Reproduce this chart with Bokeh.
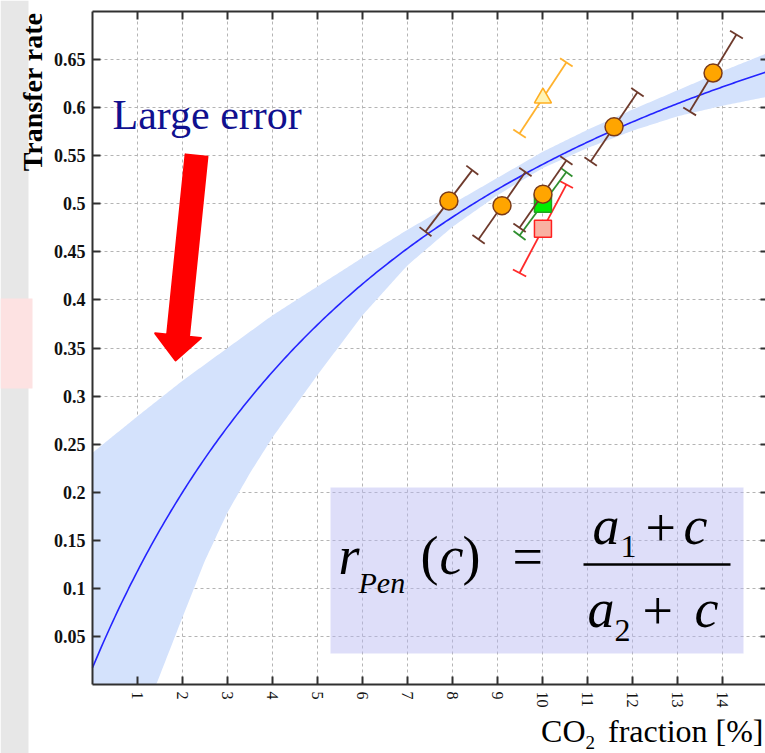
import math
import numpy as np
from bokeh.plotting import figure
from bokeh.models import FixedTicker, LinearAxis, Label, BoxAnnotation, Grid
from bokeh.embed import file_html
from bokeh.resources import INLINE

# ---------------- data ----------------
# penetration (transfer) rate measurements vs CO2 fraction
co2_pts = [7.92, 9.10, 10.01, 11.59, 13.79]
rate_pts = [0.503, 0.498, 0.510, 0.580, 0.636]
rate_pts_err = [0.032, 0.035, 0.035, 0.036, 0.040]

co2_green = [10.01]
rate_green = [0.500]
rate_green_err = [0.033]

co2_red = [10.01]
rate_red = [0.474]
rate_red_err = [0.046]

co2_tri = [10.01]
rate_tri = [0.610]
rate_tri_err = [0.037]

# fit r_Pen(c) = (a1 + c) / (a2 + c)
fit_a1 = 0.153
fit_a2 = 8.77

# fit uncertainty band
band_co2 = [0, 1, 2, 2.5, 3, 3.5, 4, 5, 6, 7, 8, 9, 10, 11, 12, 13, 14, 14.96]
band_lower = [-0.20, -0.05, 0.070, 0.129, 0.179, 0.220, 0.257, 0.322, 0.384, 0.436,
              0.476, 0.509, 0.537, 0.558, 0.576, 0.591, 0.602, 0.611]
band_upper = [0.241, 0.279, 0.316, 0.333, 0.350, 0.367, 0.384, 0.414, 0.444, 0.473,
              0.500, 0.527, 0.554, 0.577, 0.598, 0.618, 0.638, 0.656]

x_ticks = list(range(1, 15))
y_ticks = [0.05, 0.1, 0.15, 0.2, 0.25, 0.3, 0.35, 0.4, 0.45, 0.5, 0.55, 0.6, 0.65]
y_tick_labels = ["0.05", "0.1", "0.15", "0.2", "0.25", "0.3", "0.35",
                 "0.4", "0.45", "0.5", "0.55", "0.6", "0.65"]

# ---------------- layout ----------------
# the frame covers the whole canvas; axes sit at fixed data locations
W, H = 765, 753
X0_PX, Y0_PX = 92, 684          # canvas position of the data origin
PX_X = 45.0                     # pixels per CO2 unit
Y_TOP = 0.7
PX_Y = (Y0_PX - 11) / Y_TOP     # pixels per rate unit
X_MAX = (W - X0_PX) / PX_X
SERIF = "Liberation Serif"
K_BASE = 0.33                   # label anchor correction, fraction of font size


def to_data(xp, yp):
    """canvas pixel position -> data coordinates"""
    return (np.asarray(xp, float) - X0_PX) / PX_X, (Y0_PX - np.asarray(yp, float)) / PX_Y


x_lo, y_hi = to_data(0, 0)
x_hi, y_lo = to_data(W, H)

p = figure(width=W, height=H, x_range=(float(x_lo), float(x_hi)),
           y_range=(float(y_lo), float(y_hi)),
           output_backend="svg", toolbar_location=None,
           min_border=0, min_border_left=0, min_border_right=0,
           min_border_top=0, min_border_bottom=0,
           background_fill_color="white", border_fill_color="white",
           outline_line_color=None)

# slide background pieces at the left edge
sx0, _ = to_data(28, 0)
p.add_layout(BoxAnnotation(left=float(x_lo), right=float(sx0), bottom=float(y_lo), top=float(y_hi),
                           fill_color="#e7e7e7", fill_alpha=1, line_color=None, level="underlay"))
px1, pb = to_data(32, 388)
_, pt = to_data(0, 298)
p.add_layout(BoxAnnotation(left=float(x_lo), right=float(px1), bottom=float(pb), top=float(pt),
                           fill_color="#fde2e2", fill_alpha=1, line_color=None, level="underlay"))

# axes
x_ticker = FixedTicker(ticks=x_ticks)
y_ticker = FixedTicker(ticks=y_ticks)

xa = p.xaxis[0]
xa.ticker = x_ticker
xa.fixed_location = 0
xa.bounds = (0, float(X_MAX))
xa.major_label_orientation = -math.pi / 2
xa.major_label_text_font = SERIF
xa.major_label_text_font_size = "16px"
xa.major_label_standoff = 7

ya = p.yaxis[0]
ya.ticker = y_ticker
ya.fixed_location = 0
ya.bounds = (0, Y_TOP)
ya.major_label_overrides = dict(zip(y_ticks, y_tick_labels))
ya.major_label_text_font = SERIF
ya.major_label_text_font_size = "18px"
ya.major_label_text_font_style = "bold"
ya.major_label_standoff = 7

top_axis = LinearAxis(ticker=x_ticker, fixed_location=Y_TOP, bounds=(0, float(X_MAX)),
                      major_label_text_font_size="0px", major_label_text_alpha=0)
p.add_layout(top_axis, "above")

right_x, _ = to_data(768, 0)
right_axis = LinearAxis(ticker=y_ticker, fixed_location=float(right_x), bounds=(0, Y_TOP),
                        major_label_text_font_size="0px", major_label_text_alpha=0)
p.add_layout(right_axis, "right")

for ax in (xa, ya, top_axis, right_axis):
    ax.axis_line_color = "#303030"
    ax.axis_line_width = 2
    ax.major_tick_line_color = "#303030"
    ax.major_tick_line_width = 2
    ax.major_tick_in = 8
    ax.major_tick_out = 0
    ax.minor_tick_line_color = None
    ax.major_label_text_color = "#111111"

p.xgrid[0].ticker = x_ticker
p.ygrid[0].ticker = y_ticker
for g in (p.xgrid[0], p.ygrid[0]):
    g.grid_line_color = "#b4b4b4"
    g.grid_line_dash = "3 3"
    g.grid_line_width = 1
if "cross_bounds" in Grid.properties():
    p.xgrid[0].cross_bounds = (0, Y_TOP)
    p.ygrid[0].cross_bounds = (0, float(X_MAX))

# formula box (under the glyphs, over the grid)
bl, bb = to_data(330, 653)
br, bt = to_data(743, 487)
p.add_layout(BoxAnnotation(left=float(bl), right=float(br), bottom=float(bb), top=float(bt),
                           fill_color="#b6b6f2", fill_alpha=0.45, line_color=None,
                           level="underlay"))

# fit band (clipped at the x axis) and curve
bc = np.linspace(0, band_co2[-1], 400)
b_lo = np.maximum(np.interp(bc, band_co2, band_lower), 0)
b_hi = np.interp(bc, band_co2, band_upper)
p.varea(x=bc, y1=b_lo, y2=b_hi, fill_color="#d4e2fc", fill_alpha=1)
c = np.linspace(0, X_MAX, 300)
p.line(c, (fit_a1 + c) / (fit_a2 + c), line_color="#2424ff", line_width=1.6)

# slanted error bars with perpendicular caps
BAR_SKEW = 0.52   # half horizontal offset of a bar, in CO2 units
CAP_HALF = 7.5    # px


def error_bars(xs, ys, errs, color, width=1.8):
    xs, ys, errs = (np.asarray(a, float) for a in (xs, ys, errs))
    x0, x1 = xs - BAR_SKEW, xs + BAR_SKEW
    y0, y1 = ys - errs, ys + errs
    p.segment(x0, y0, x1, y1, line_color=color, line_width=width)
    bx, by = (x1 - x0) * PX_X, (y1 - y0) * PX_Y
    n = np.hypot(bx, by)
    cx, cy = -by / n * CAP_HALF / PX_X, bx / n * CAP_HALF / PX_Y
    for ex, ey in ((x0, y0), (x1, y1)):
        p.segment(ex - cx, ey - cy, ex + cx, ey + cy, line_color=color, line_width=width)


error_bars(co2_tri, rate_tri, rate_tri_err, "#ffb22e")
p.scatter(co2_tri, rate_tri, marker="triangle", size=17, fill_color="#fff4b4",
          line_color="#ffae22", line_width=1.6)

error_bars(co2_red, rate_red, rate_red_err, "#ff2a2a")
p.scatter(co2_red, rate_red, marker="square", size=17, fill_color="#f9b1a2",
          line_color="#ff2020", line_width=1.5)

error_bars(co2_green, rate_green, rate_green_err, "#2f8f2f")
p.scatter(co2_green, rate_green, marker="square", size=17, fill_color="#00ee00",
          line_color="#22a022", line_width=1.5)

error_bars(co2_pts, rate_pts, rate_pts_err, "#6e3a2c")
p.scatter(co2_pts, rate_pts, marker="circle", size=18, fill_color="#ffa500",
          line_color="#7a3a18", line_width=1.5)

# red pointer arrow
tail = np.array([196.0, 155.0])
tip = np.array([175.0, 360.0])
u = (tip - tail) / np.hypot(*(tip - tail))
nrm = np.array([-u[1], u[0]])
neck = tip - u * 25
pts = [tail + nrm * 11, neck + nrm * 11, neck + nrm * 23, tip,
       neck - nrm * 23, neck - nrm * 11, tail - nrm * 11]
ax_, ay_ = to_data([q[0] for q in pts], [q[1] for q in pts])
p.patch(ax_, ay_, fill_color="#ff0000", line_color="#ff0000", line_width=2, line_join="round")


def label(xp, yp, text, size, style="normal", color="#000000", align="left", angle=0.0):
    if angle:
        xp = xp - K_BASE * size
    else:
        yp = yp - K_BASE * size
    x, y = to_data(xp, yp)
    p.add_layout(Label(x=float(x), y=float(y), text=text, text_font=SERIF,
                       text_font_size=f"{size}px", text_font_style=style,
                       text_color=color, text_align=align, text_baseline="alphabetic",
                       angle=angle))


label(112, 128, "Large error", 42, color="#10108f")

# formula r_Pen(c) = (a1 + c) / (a2 + c)
label(338, 573, "r", 54, "italic")
label(358, 592, "Pen", 30, "italic")
label(420, 573, "(", 54)
label(439, 573, "c", 54, "italic")
label(462, 573, ")", 54)
label(512, 574, "=", 54)
label(592, 543, "a", 54, "italic")
label(620, 557, "1", 32)
label(645, 545, "+", 54)
label(683, 543, "c", 54, "italic")
label(587, 626, "a", 54, "italic")
label(614, 641, "2", 32)
label(642, 628, "+", 54)
label(694, 626, "c", 54, "italic")
fx, fy = to_data([583, 730], [564, 564])
p.line(fx, fy, line_color="#000000", line_width=2.5)

# axis titles
label(41, 12, "Transfer rate", 28, "bold", align="right", angle=math.pi / 2)
label(585, 741, "CO", 32, align="right")
label(585, 748, "2", 19)
label(763, 741, "fraction [%]", 32, align="right")

open("out.html", "w").write(file_html(p, INLINE))
